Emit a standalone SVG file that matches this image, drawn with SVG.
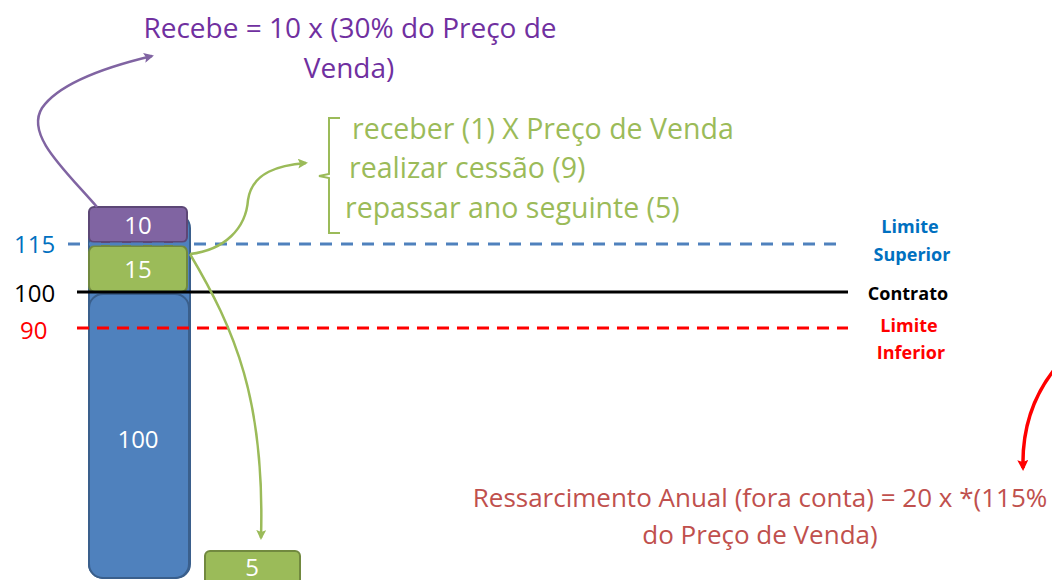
<svg xmlns="http://www.w3.org/2000/svg" width="1052" height="580" viewBox="0 0 1052 580">
<style>
text{font-family:"Open Sans","Liberation Sans",sans-serif}
.w{fill:#fff;font-size:24px;text-anchor:middle}
.lbl{font-size:18px;font-weight:bold;text-anchor:middle}
.pu{fill:#7030A0;font-size:28px;text-anchor:middle}
.gr{fill:#9BBB59;font-size:28.5px}
.rd{fill:#C0504D;font-size:26px;text-anchor:middle}
.ax{font-size:24px}
</style>
<defs>
<marker id="ap" markerWidth="10" markerHeight="10" refX="8" refY="5" orient="auto" markerUnits="userSpaceOnUse"><path d="M0,0 L10,5 L0,10 L2,5 Z" fill="#8064A2"/></marker>
<marker id="ag" markerWidth="10" markerHeight="10" refX="8" refY="5" orient="auto" markerUnits="userSpaceOnUse"><path d="M0,0 L10,5 L0,10 L2,5 Z" fill="#9BBB59"/></marker>
<marker id="ar" markerWidth="11" markerHeight="11" refX="8" refY="5.5" orient="auto" markerUnits="userSpaceOnUse"><path d="M0,0 L11,5.5 L0,11 L2,5.5 Z" fill="#FF0000"/></marker>
</defs>
<rect width="1052" height="580" fill="#fff"/>
<g id="column-back"><rect x="89" y="214" width="101" height="364" rx="14" fill="#4F81BD" stroke="#3A5F8C" stroke-width="2"/></g>
<g id="node-100"><rect x="89" y="294" width="100" height="284" rx="14" fill="#4F81BD" stroke="#3A5F8C" stroke-width="2"/><text class="w" x="138" y="448">100</text></g>
<g id="node-10"><rect x="89" y="207" width="98" height="35" rx="5" fill="#8064A2" stroke="#5C4776" stroke-width="2"/><text class="w" x="138" y="234">10</text></g>
<g id="node-15"><rect x="89" y="246" width="98" height="46" rx="6" fill="#9BBB59" stroke="#71893F" stroke-width="2"/><text class="w" x="138" y="278">15</text></g>
<g id="node-5"><rect x="205" y="551" width="95" height="40" rx="5" fill="#9BBB59" stroke="#71893F" stroke-width="2"/><text class="w" x="252" y="576">5</text></g>
<g id="lines">
<line x1="68" y1="244" x2="845" y2="244" stroke="#4F81BD" stroke-width="3" stroke-dasharray="12,9"/>
<line x1="77" y1="292" x2="848" y2="292" stroke="#000" stroke-width="3"/>
<line x1="77" y1="328" x2="848" y2="328" stroke="#FF0000" stroke-width="3" stroke-dasharray="12,8"/>
</g>
<g id="axis-labels">
<text class="ax" x="14" y="253" fill="#0070C0">115</text>
<text class="ax" x="14" y="302" fill="#000">100</text>
<text class="ax" x="20" y="339" fill="#FF0000">90</text>
</g>
<g id="limit-labels">
<text class="lbl" x="910" y="233" fill="#0070C0">Limite</text>
<text class="lbl" x="912" y="261" fill="#0070C0">Superior</text>
<text class="lbl" x="908" y="300" fill="#000">Contrato</text>
<text class="lbl" x="909" y="332" fill="#FF0000">Limite</text>
<text class="lbl" x="911" y="359" fill="#FF0000">Inferior</text>
</g>
<g id="recebe">
<text class="pu" x="350" y="38">Recebe = 10 x (30% do Preço de</text>
<text class="pu" x="349" y="78">Venda)</text>
</g>
<g id="green-list">
<path d="M340,118 L329,118 L329,174 L319,176 L329,178 L329,233 L340,233" fill="none" stroke="#9BBB59" stroke-width="2"/>
<text class="gr" x="352" y="139">receber (1) X Preço de Venda</text>
<text class="gr" x="349" y="178">realizar cessão (9)</text>
<text class="gr" x="345" y="218">repassar ano seguinte (5)</text>
</g>
<g id="ressarcimento">
<text class="rd" x="760" y="507">Ressarcimento Anual (fora conta) = 20 x *(115%</text>
<text class="rd" x="760" y="544">do Preço de Venda)</text>
</g>
<g id="connectors" fill="none" stroke-width="2.5">
<path d="M97,207 C65,170 25,135 42,108 C60,82 110,66 152,56" stroke="#8064A2" marker-end="url(#ap)"/>
<path d="M190,254 C225,250 246,228 248,200 C252,172 280,165 306,163" stroke="#9BBB59" marker-end="url(#ag)"/>
<path d="M190,254 C235,330 265,400 261,538" stroke="#9BBB59" marker-end="url(#ag)"/>
<path d="M1054,370 C1032,398 1022,430 1023,468" stroke="#FF0000" stroke-width="3.5" marker-end="url(#ar)"/>
</g>
</svg>
